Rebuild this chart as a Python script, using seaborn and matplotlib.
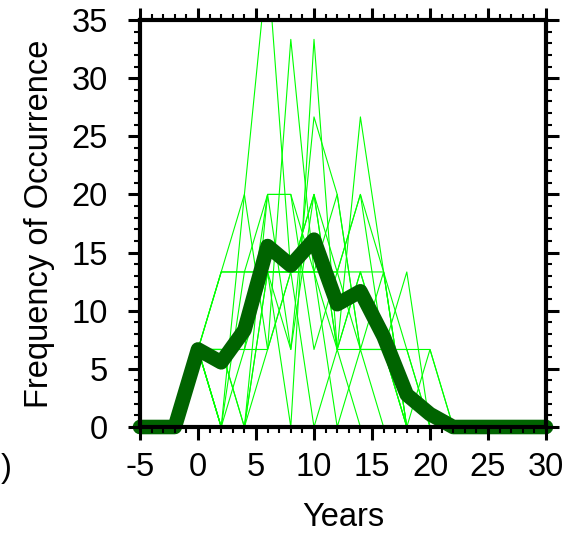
import numpy as np
import pandas as pd
import matplotlib
matplotlib.use("Agg")
import matplotlib.pyplot as plt
from matplotlib.ticker import MultipleLocator
import seaborn as sns

# ensemble members: frequency in units of 1/15 (6.67 %) at even years
years = [-4, -2, 0, 2, 4, 6, 8, 10, 12, 14, 16, 18, 20, 22, 24, 26, 28, 30]
step = 100.0 / 15.0
members = [
    [0, 0, 1, 0, 3, 6, 2, 0, 1, 0, 0, 0, 0, 0, 0, 0, 0, 0],
    [0, 0, 1, 1, 1, 1, 5, 2, 0, 1, 0, 0, 0, 0, 0, 0, 0, 0],
    [0, 0, 1, 0, 2, 2, 0, 5, 1, 2, 1, 0, 0, 0, 0, 0, 0, 0],
    [0, 0, 1, 2, 2, 3, 1, 4, 3, 1, 2, 0, 0, 0, 0, 0, 0, 0],
    [0, 0, 1, 1, 0, 3, 3, 2, 2, 3, 1, 1, 0, 0, 0, 0, 0, 0],
    [0, 0, 1, 0, 1, 2, 2, 2, 1, 4, 2, 1, 0, 0, 0, 0, 0, 0],
    [0, 0, 1, 2, 3, 1, 2, 2, 2, 2, 2, 0, 0, 0, 0, 0, 0, 0],
    [0, 0, 1, 1, 1, 3, 3, 1, 2, 1, 1, 1, 1, 0, 0, 0, 0, 0],
    [0, 0, 1, 2, 2, 2, 2, 3, 1, 2, 1, 2, 0, 0, 0, 0, 0, 0],
    [0, 0, 1, 0, 0, 2, 1, 3, 2, 3, 2, 0, 0, 0, 0, 0, 0, 0],
    [0, 0, 1, 1, 0, 2, 2, 2, 3, 1, 1, 0, 1, 0, 0, 0, 0, 0],
    [0, 0, 1, 0, 0, 1, 2, 3, 1, 1, 1, 0, 0, 0, 0, 0, 0, 0],
]

# ensemble mean (thick line)
mean_years = [-5, -4, -2, 0, 2, 4, 6, 8, 10, 12, 14, 16, 18, 20, 22, 24, 26, 28, 30]
mean_freq = [0, 0, 0, 6.67, 5.56, 8.33, 15.56, 13.89, 16.11, 10.56, 11.67,
             7.78, 2.78, 1.11, 0, 0, 0, 0, 0]

rows = []
for m, vals in enumerate(members):
    for yr, v in zip(years, vals):
        rows.append({"member": m, "year": yr, "freq": v * step})
df = pd.DataFrame(rows)
df_mean = pd.DataFrame({"year": mean_years, "freq": mean_freq})

sns.set_style("ticks")
plt.rcParams['font.family'] = ['Liberation Sans', 'DejaVu Sans']
plt.rcParams.update({
    "text.color": "black", "axes.labelcolor": "black",
    "xtick.color": "black", "ytick.color": "black",
    "axes.unicode_minus": False,
})

fs = 23.5
fig = plt.figure(figsize=(5.66, 5.35), dpi=100)
ax = fig.add_axes([140 / 566, 108 / 535, 406 / 566, 407 / 535])

sns.lineplot(data=df, x="year", y="freq", units="member", estimator=None,
             color="#00ff00", lw=0.8, ax=ax, legend=False)
sns.lineplot(data=df_mean, x="year", y="freq", color="#006400", lw=10.5,
             ax=ax, legend=False)
thick = ax.lines[-1]
thick.set_clip_on(False)
thick.set_solid_capstyle("round")
thick.set_solid_joinstyle("round")

ax.set_xlim(-5, 30)
ax.set_ylim(0, 35)
ax.xaxis.set_major_locator(MultipleLocator(5))
ax.xaxis.set_minor_locator(MultipleLocator(1))
ax.yaxis.set_major_locator(MultipleLocator(5))
ax.yaxis.set_minor_locator(MultipleLocator(1))
ax.set_axisbelow(False)

for s in ax.spines.values():
    s.set_linewidth(3)
    s.set_color("black")
    s.set_zorder(3)

ax.tick_params(which="major", direction="out", length=9, width=2.2,
               top=True, right=True, labelsize=fs, pad=9)
ax.tick_params(which="minor", direction="out", length=4.5, width=1.5,
               top=True, right=True)
ax.tick_params(axis="y", which="major", pad=14)

ax.set_xlabel("Years", fontsize=fs, labelpad=14)
ax.set_ylabel("Frequency of Occurrence", fontsize=fs, labelpad=12)

# edge of the neighbouring panel's tick label
fig.text(0.5 / 566, 1 - 468 / 535, ")", fontsize=fs, ha="left", va="center")

fig.savefig("out.png", dpi=100)
